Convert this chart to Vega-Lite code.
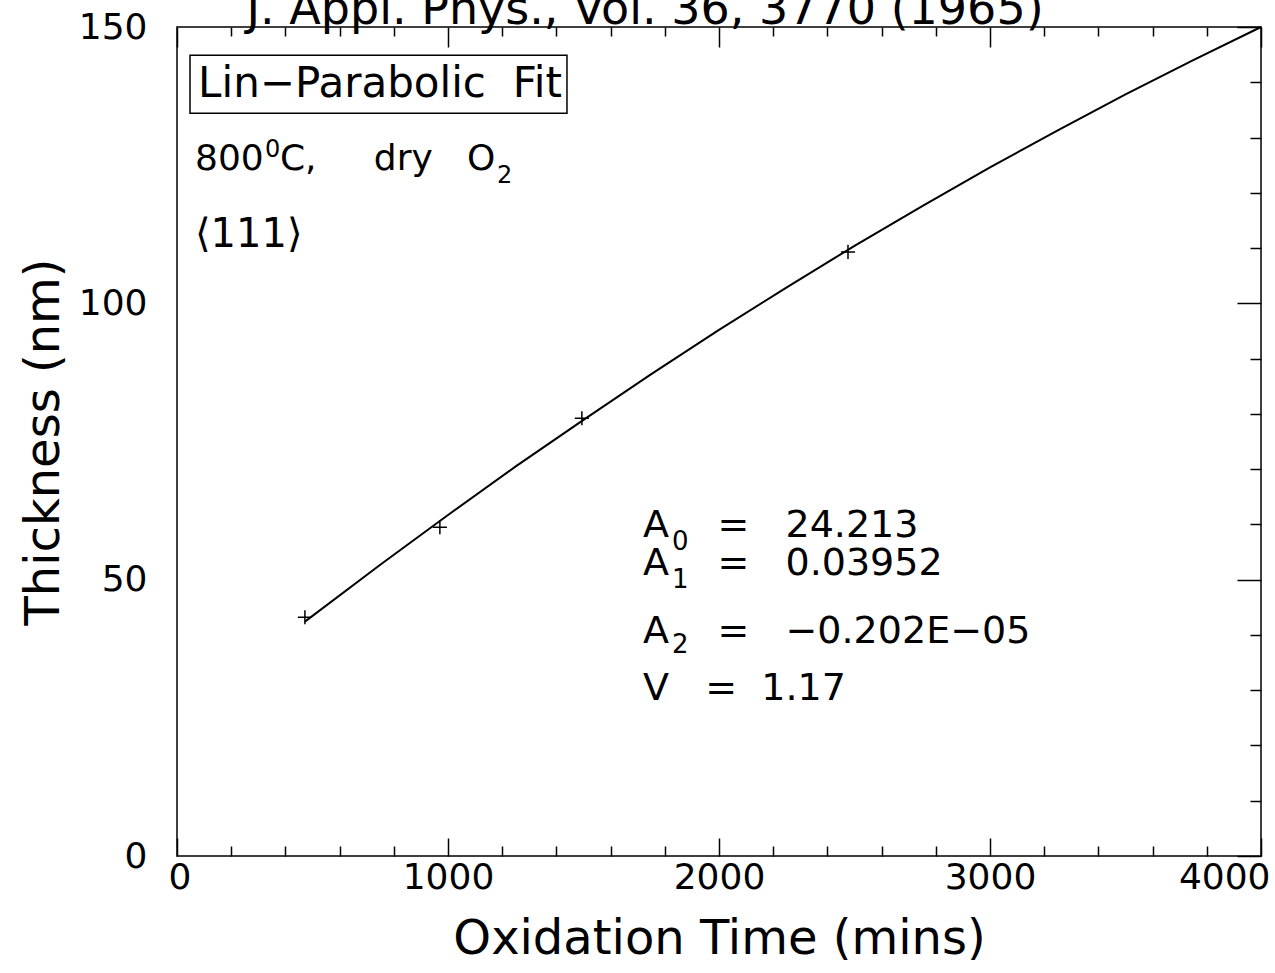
{
  "$schema": "https://vega.github.io/schema/vega-lite/v6.json",
  "width": 1084,
  "height": 829,
  "autosize": {"type": "none"},
  "padding": {"left": 177, "top": 27, "right": 14, "bottom": 117},
  "background": "white",
  "config": {
    "view": {"stroke": "black", "strokeWidth": 1.5},
    "axis": {
      "domain": false,
      "grid": false,
      "tickColor": "black",
      "tickWidth": 1.5,
      "labelColor": "black",
      "titleColor": "black",
      "labelFont": "DejaVu Sans",
      "titleFont": "DejaVu Sans",
      "titleFontWeight": "normal",
      "labelFontSize": 36,
      "titleFontSize": 48
    },
    "text": {"font": "DejaVu Sans", "color": "black"}
  },
  "datasets": {
    "fit": [
      {"time": 472, "thickness": 42.4},
      {"time": 750, "thickness": 52.7},
      {"time": 1000, "thickness": 61.7},
      {"time": 1250, "thickness": 70.5},
      {"time": 1500, "thickness": 78.9},
      {"time": 1750, "thickness": 87.2},
      {"time": 2000, "thickness": 95.2},
      {"time": 2250, "thickness": 102.9},
      {"time": 2500, "thickness": 110.4},
      {"time": 2750, "thickness": 117.6},
      {"time": 3000, "thickness": 124.6},
      {"time": 3250, "thickness": 131.3},
      {"time": 3500, "thickness": 137.8},
      {"time": 3750, "thickness": 144.0},
      {"time": 4000, "thickness": 150.0}
    ],
    "measured": [
      {"time": 472, "thickness": 43.2},
      {"time": 970, "thickness": 59.5},
      {"time": 1494, "thickness": 79.2},
      {"time": 2476, "thickness": 109.3}
    ],
    "one": [{}]
  },
  "layer": [
    {
      "data": {"name": "fit"},
      "mark": {"type": "line", "color": "black", "strokeWidth": 2},
      "encoding": {
        "x": {
          "field": "time", "type": "quantitative",
          "scale": {"domain": [0, 4000], "nice": false, "zero": false},
          "axis": {
            "orient": "bottom",
            "values": [0,200,400,600,800,1000,1200,1400,1600,1800,2000,2200,2400,2600,2800,3000,3200,3400,3600,3800,4000],
            "tickSize": {"condition": {"test": "datum.value % 1000 === 0", "value": -18}, "value": -10},
            "labelExpr": "datum.value % 1000 === 0 ? datum.label : ''",
            "format": "d",
            "labelPadding": 22,
            "labelFlush": true,
            "labelFlushOffset": 9,
            "labelOverlap": false,
            "title": "Oxidation Time (mins)",
            "titlePadding": 12
          }
        },
        "y": {
          "field": "thickness", "type": "quantitative",
          "scale": {"domain": [0, 150], "nice": false},
          "axis": {
            "orient": "left",
            "values": [0,10,20,30,40,50,60,70,80,90,100,110,120,130,140,150],
            "tickSize": 0,
            "encode": {"ticks": {"update": {"x2": [{"test": "datum.value % 50 === 0", "value": 23}, {"value": 12}]}}},
            "labelExpr": "datum.value % 50 === 0 ? datum.label : ''",
            "labelPadding": 30,
            "labelOverlap": false,
            "title": "Thickness (nm)",
            "titlePadding": 10
          }
        }
      }
    },
    {
      "data": {"name": "measured"},
      "mark": {"type": "point", "shape": "M-1,0H1M0,-1V1", "filled": false, "color": "black", "strokeWidth": 1.5, "size": 200, "opacity": 1},
      "encoding": {
        "x": {
          "field": "time", "type": "quantitative",
          "axis": {
            "orient": "top",
            "values": [0,200,400,600,800,1000,1200,1400,1600,1800,2000,2200,2400,2600,2800,3000,3200,3400,3600,3800,4000],
            "tickSize": {"condition": {"test": "datum.value % 1000 === 0", "value": -20}, "value": -9},
            "labels": false,
            "title": null
          }
        },
        "y": {
          "field": "thickness", "type": "quantitative",
          "axis": {
            "orient": "right",
            "values": [0,10,20,30,40,50,60,70,80,90,100,110,120,130,140,150],
            "tickSize": {"condition": {"test": "datum.value % 50 === 0", "value": -24}, "value": -11},
            "labels": false,
            "title": null
          }
        }
      }
    },
    {
      "data": {"name": "one"},
      "mark": {"type": "rect", "filled": false, "color": "black", "strokeWidth": 1.5},
      "encoding": {
        "x": {"datum": 48, "type": "quantitative", "axis": null},
        "x2": {"datum": 1439},
        "y": {"datum": 144.9, "type": "quantitative", "axis": null},
        "y2": {"datum": 134.4}
      }
    },
    {
      "data": {"name": "one"},
      "mark": {"type": "text", "text": "Lin−Parabolic\u00a0\u00a0Fit", "fontSize": 42, "align": "center", "baseline": "alphabetic"},
      "encoding": {
        "x": {"datum": 749, "type": "quantitative", "axis": null},
        "y": {"datum": 137.3, "type": "quantitative", "axis": null}
      }
    },
    {
      "data": {"name": "one"},
      "mark": {"type": "text", "text": "800", "fontSize": 36, "align": "left", "baseline": "alphabetic"},
      "encoding": {
        "x": {"datum": 66.4, "type": "quantitative", "axis": null},
        "y": {"datum": 124.1, "type": "quantitative", "axis": null}
      }
    },
    {
      "data": {"name": "one"},
      "mark": {"type": "text", "text": "0", "fontSize": 24, "align": "left", "baseline": "alphabetic"},
      "encoding": {
        "x": {"datum": 324.7, "type": "quantitative", "axis": null},
        "y": {"datum": 126.5, "type": "quantitative", "axis": null}
      }
    },
    {
      "data": {"name": "one"},
      "mark": {"type": "text", "text": "C,\u00a0\u00a0\u00a0\u00a0\u00a0dry\u00a0\u00a0\u00a0O", "fontSize": 36, "align": "left", "baseline": "alphabetic"},
      "encoding": {
        "x": {"datum": 380, "type": "quantitative", "axis": null},
        "y": {"datum": 124.1, "type": "quantitative", "axis": null}
      }
    },
    {
      "data": {"name": "one"},
      "mark": {"type": "text", "text": "2", "fontSize": 24, "align": "left", "baseline": "alphabetic"},
      "encoding": {
        "x": {"datum": 1181, "type": "quantitative", "axis": null},
        "y": {"datum": 121.8, "type": "quantitative", "axis": null}
      }
    },
    {
      "data": {"name": "one"},
      "mark": {"type": "text", "text": "⟨111⟩", "fontSize": 40, "align": "left", "baseline": "alphabetic"},
      "encoding": {
        "x": {"datum": 66.4, "type": "quantitative", "axis": null},
        "y": {"datum": 110.2, "type": "quantitative", "axis": null}
      }
    },
    {
      "data": {"name": "one"},
      "mark": {"type": "text", "text": "J. Appl. Phys., Vol. 36, 3770 (1965)", "fontSize": 46, "align": "center", "baseline": "alphabetic", "dy": -3},
      "encoding": {
        "x": {"datum": 1727, "type": "quantitative", "axis": null},
        "y": {"datum": 150, "type": "quantitative", "axis": null}
      }
    },
    {
      "data": {"name": "one"},
      "mark": {"type": "text", "text": "A\u00a0\u00a0\u00a0\u00a0=\u00a0\u00a0\u00a024.213", "fontSize": 38, "align": "left", "baseline": "alphabetic"},
      "encoding": {
        "x": {"datum": 1720, "type": "quantitative", "axis": null},
        "y": {"datum": 57.7, "type": "quantitative", "axis": null}
      }
    },
    {
      "data": {"name": "one"},
      "mark": {"type": "text", "text": "0", "fontSize": 26, "align": "left", "baseline": "alphabetic"},
      "encoding": {
        "x": {"datum": 1827, "type": "quantitative", "axis": null},
        "y": {"datum": 55.4, "type": "quantitative", "axis": null}
      }
    },
    {
      "data": {"name": "one"},
      "mark": {"type": "text", "text": "A\u00a0\u00a0\u00a0\u00a0=\u00a0\u00a0\u00a00.03952", "fontSize": 38, "align": "left", "baseline": "alphabetic"},
      "encoding": {
        "x": {"datum": 1720, "type": "quantitative", "axis": null},
        "y": {"datum": 50.8, "type": "quantitative", "axis": null}
      }
    },
    {
      "data": {"name": "one"},
      "mark": {"type": "text", "text": "1", "fontSize": 26, "align": "left", "baseline": "alphabetic"},
      "encoding": {
        "x": {"datum": 1827, "type": "quantitative", "axis": null},
        "y": {"datum": 48.5, "type": "quantitative", "axis": null}
      }
    },
    {
      "data": {"name": "one"},
      "mark": {"type": "text", "text": "A\u00a0\u00a0\u00a0\u00a0=\u00a0\u00a0\u00a0−0.202E−05", "fontSize": 38, "align": "left", "baseline": "alphabetic"},
      "encoding": {
        "x": {"datum": 1720, "type": "quantitative", "axis": null},
        "y": {"datum": 38.5, "type": "quantitative", "axis": null}
      }
    },
    {
      "data": {"name": "one"},
      "mark": {"type": "text", "text": "2", "fontSize": 26, "align": "left", "baseline": "alphabetic"},
      "encoding": {
        "x": {"datum": 1827, "type": "quantitative", "axis": null},
        "y": {"datum": 36.7, "type": "quantitative", "axis": null}
      }
    },
    {
      "data": {"name": "one"},
      "mark": {"type": "text", "text": "V\u00a0\u00a0\u00a0=\u00a0\u00a01.17", "fontSize": 38, "align": "left", "baseline": "alphabetic"},
      "encoding": {
        "x": {"datum": 1720, "type": "quantitative", "axis": null},
        "y": {"datum": 28.2, "type": "quantitative", "axis": null}
      }
    }
  ],
  "resolve": {"axis": {"x": "independent", "y": "independent"}}
}
